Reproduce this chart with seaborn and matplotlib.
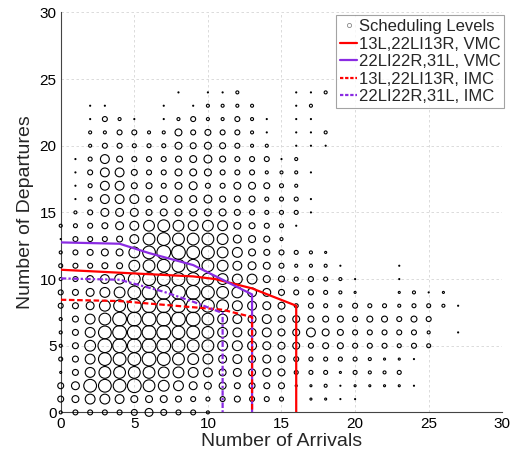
import numpy as np
import pandas as pd
import matplotlib
matplotlib.use("Agg")
import matplotlib.pyplot as plt
import seaborn as sns
from matplotlib.lines import Line2D

# ---------------- data ----------------
arrivals = list(range(28))
# scheduling level per (arrivals, departures) cell, one list per departures row (index = arrivals)
y24 = [0,0,0,0,0,0,0,0,1,0,1,1,2,0,0,0,1,1,2]
y23 = [0,0,1,1,0,0,0,1,0,1,2,2,2,2,0,0,1,2]
y22 = [0,0,1,3,2,1,0,1,2,3,2,2,3,2,1,0,1,1]
y21 = [0,0,2,2,3,3,2,2,4,3,3.5,3,3,2,1,0,1,1,2]
y20 = [0,0,2,3,3,2.5,2.5,2.5,4,3.5,4,3.5,3,2,2,0,1,1,1]
y19 = [0,1,2.5,5,3.5,3,3,3,3.5,4,4.5,3.5,3,3,3,1,2]
y18 = [0,1,3,5,5,3.5,3,3,4,4,4,3,3,3,2,2,2,1]
y17 = [0,1,2.5,5,5,3.5,3.5,3,4,4.5,3,3,4,4,3.5,2.5,2]
y16 = [0,1,2.5,5,5,5,3.5,4,4,4,4.5,3.5,3.5,3.5,2.5,2.5,2.5,1]
y15 = [0,2,3,4.5,4.5,4.5,3.5,4,4,4,4,4,3.5,3,2.5,2.5,2.5,1]
y14 = [2,2.5,3,3.5,4.5,5,6,6.5,6,5.5,6,5.5,4,3.5,3,2.5,1]
y13 = [1,3,3,3,3.5,5,6.5,7,6.5,6.5,6.5,6,4.5,4,3.5,2]
y12 = [2,3,3.5,4,4,6,7,7.5,7.5,7,7,6,5.5,4,3.5,3,2.5,2,1.5]
y11 = [2.5,3,3,3.5,3.5,6,6.5,7,7,7,6.5,6,5,4.5,4,3,2,2,2,1,0,0,0,1]
y10 = [2,3,4,5,5.5,6.5,7,7,7,7,6.5,6,5.5,5.5,4,3.5,2.5,3,2.5,2,1,0,0,1]
y09 = [3,3.5,4.5,5.5,6,7,7.5,7.5,7.5,7.5,7,6.5,6,5,4.5,3.5,3,3,2.5,2,1.5,0,0,1.5,2,1,1.5]
y08 = [3,3.5,4.5,6,6.5,7.5,7.5,7.5,7.5,7.5,7,6.5,5.5,5,4.5,4,2.5,3,2.5,2,3,2.5,2.5,2,2.5,2.5,2,1]
y07 = [2,3.5,5.5,6.5,7.5,7.5,7.5,7.5,7.5,7.5,6.5,5.5,5,4.5,5,4,4,3.5,3.5,3.5,3,3.5,3.5,3,3.5,3]
y06 = [2,3.5,5.5,7,7.5,7.5,7.5,7.5,7,7,6.5,5.5,5,4.5,5,4,4,5,4,3.5,3,3,3,3,3,2,0,1]
y05 = [2,3.5,6,7.5,7.5,7.5,7.5,7.5,7,6.5,6.5,5.5,5.5,5,4.5,4,4,3,3.5,3.5,3,3,3,2.5,3,2.5]
y04 = [2.5,3.5,5.5,7,7,7,7.5,7,6.5,6,5.5,4.5,5,4,4.5,4,3,2.5,2.5,2.5,2.5,2,1.5,1.5,1]
y03 = [1.5,3.5,5.5,6.5,6.5,6.5,6.5,6,6,5.5,5,4,4.5,4,4.5,4,2.5,2.5,2.5,1.5,2.5,2,2,2.5]
y02 = [3.5,4.5,7,7,7,7.5,6.5,6,5.5,4.5,4,4,3.5,3.5,3.5,3.5,1.5,1.5,2,1,1.5,1.5,1.5,1.5,1]
y01 = [3.5,4,5.5,5.5,5,4,4,4,3.5,3,2.5,3,3.5,3,3,2.5,0,1.5,1.5,1,1]
y00 = [2,3,3,3,3,3.5,4.5,3.5,3,3,2]

level_rows = [y00, y01, y02, y03, y04, y05, y06, y07, y08, y09, y10, y11, y12,
              y13, y14, y15, y16, y17, y18, y19, y20, y21, y22, y23, y24]

# capacity envelopes (arrivals, departures)
vmc_13l_x = [0, 9, 10.5, 13, 16, 16]
vmc_13l_y = [10.7, 10.2, 10.0, 9.3, 8.0, 0]
vmc_22l_x = [0, 4, 6, 9, 11, 13, 13]
vmc_22l_y = [12.75, 12.65, 11.95, 11.05, 9.95, 8.85, 0]
imc_13l_x = [0, 4, 11, 13, 13]
imc_13l_y = [8.45, 8.35, 7.7, 7.15, 0]
imc_22l_x = [0, 4, 7, 9, 11, 11]
imc_22l_y = [10.05, 9.95, 9.05, 8.3, 7.45, 0]

labels = ["Scheduling Levels", "13L,22LI13R, VMC", "22LI22R,31L, VMC",
          "13L,22LI13R, IMC", "22LI22R,31L, IMC"]

# ---------------- build table ----------------
recs = []
for yv, row in enumerate(level_rows):
    for xv, lv in enumerate(row):
        if lv > 0:
            recs.append((arrivals[xv], yv, lv))
df = pd.DataFrame(recs, columns=["arrivals", "departures", "level"])

sns.set_style("white")
plt.rcParams["font.family"] = ["Liberation Sans", "DejaVu Sans"]

fig = plt.figure(figsize=(5.27, 4.59), dpi=100)
ax = fig.add_axes([0.1152, 0.1015, 0.8379, 0.8715])

lv_unique = sorted(df["level"].unique())
size_map = {lv: max((1.95 * lv - 0.9) * 0.72, 0.3) ** 2 for lv in lv_unique}

sns.scatterplot(data=df, x="arrivals", y="departures", size="level",
                sizes=size_map, marker="o", color="black", linewidth=0.8,
                legend=False, ax=ax, zorder=3)
coll = ax.collections[-1]
coll.set_facecolor("none")
coll.set_edgecolor("black")
coll.set_clip_on(False)

red = "#ff0000"
purple = "#8a2be2"
lw = 1.6
sns.lineplot(x=vmc_13l_x, y=vmc_13l_y, sort=False, estimator=None, color=red,
             linewidth=lw, ax=ax, zorder=4)
sns.lineplot(x=vmc_22l_x, y=vmc_22l_y, sort=False, estimator=None, color=purple,
             linewidth=lw, ax=ax, zorder=4)
sns.lineplot(x=imc_13l_x, y=imc_13l_y, sort=False, estimator=None, color=red,
             linewidth=lw, linestyle=(0, (2.5, 1.2)), ax=ax, zorder=5)
sns.lineplot(x=imc_22l_x, y=imc_22l_y, sort=False, estimator=None, color=purple,
             linewidth=lw, linestyle=(0, (2.5, 1, 1, 1)), ax=ax, zorder=5)

ax.set_xlim(0, 30)
ax.set_ylim(0, 30)
ax.set_xticks(range(0, 31, 5))
ax.set_yticks(range(0, 31, 5))
ax.tick_params(direction="in", length=3, width=0.6, labelsize=11, pad=3,
               colors="black")
ax.grid(True, linestyle=(0, (3, 3)), color="#d6d6d6", linewidth=0.6)
ax.set_axisbelow(True)
for s in ["top", "right"]:
    ax.spines[s].set_visible(False)
for s in ["left", "bottom"]:
    ax.spines[s].set_color("#444444")
    ax.spines[s].set_linewidth(0.8)

ax.set_xlabel("Number of Arrivals", fontsize=14, labelpad=2)
ax.set_ylabel("Number of Departures", fontsize=14, labelpad=4)

handles = [
    Line2D([], [], marker="o", ls="", markersize=3, markerfacecolor="none",
           markeredgecolor="#888888", markeredgewidth=0.6),
    Line2D([], [], color=red, lw=lw),
    Line2D([], [], color=purple, lw=lw),
    Line2D([], [], color=red, lw=lw, ls=(0, (1.5, 0.8))),
    Line2D([], [], color=purple, lw=lw, ls=(0, (1.5, 0.8))),
]
leg = ax.legend(handles, labels, loc="upper right", bbox_to_anchor=(1.005, 0.9935),
                borderaxespad=0, fontsize=12, frameon=True, fancybox=False,
                handlelength=1.0, handletextpad=0.1, labelspacing=0.15,
                borderpad=0.25)
leg.get_frame().set_edgecolor("#8c8c8c")
leg.get_frame().set_linewidth(0.8)
leg.set_zorder(10)

fig.savefig("out.png", dpi=100)
